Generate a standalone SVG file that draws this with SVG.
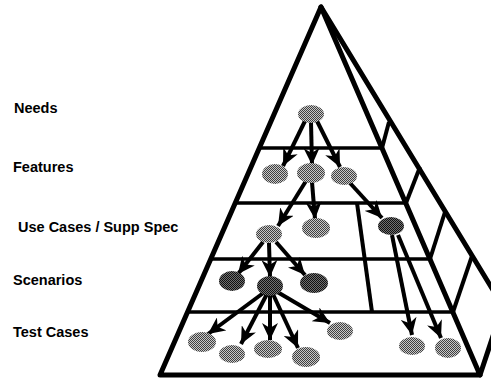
<svg xmlns="http://www.w3.org/2000/svg" width="491" height="380" viewBox="0 0 491 380">
  <style>
    .edge { stroke: #000; stroke-width: 5; fill: none; stroke-linecap: round; stroke-linejoin: round; }
    .layer { stroke: #000; stroke-width: 3.5; fill: none; }
    .side { stroke: #000; stroke-width: 4; fill: none; }
    .arrow { stroke: #000; stroke-width: 4; fill: none; marker-end: url(#head); }
    .node { fill: url(#halftone); }
    .node-dark { fill: url(#halftone-dark); }
    .label { font-family: "Liberation Sans", Arial, sans-serif; font-weight: bold; font-size: 14.5px; fill: #000; }
  </style>
  <defs>
    <pattern id="halftone" width="2" height="2" patternUnits="userSpaceOnUse">
      <rect width="2" height="2" fill="#c8c8c8"/>
      <rect x="0" y="0" width="1" height="1" fill="#404040"/>
      <rect x="1" y="1" width="1" height="1" fill="#404040"/>
    </pattern>
    <pattern id="halftone-dark" width="2" height="2" patternUnits="userSpaceOnUse">
      <rect width="2" height="2" fill="#707070"/>
      <rect x="0" y="0" width="1" height="1" fill="#101010"/>
      <rect x="1" y="1" width="1" height="1" fill="#101010"/>
    </pattern>
    <marker id="head" markerUnits="userSpaceOnUse" markerWidth="18" markerHeight="16" refX="17" refY="8" orient="auto">
      <path d="M0,0 L17,8 L0,16 L5,8 Z" fill="#000"/>
    </marker>
  </defs>

  <!-- pyramid frame -->
  <g id="pyramid">
    <path class="edge" d="M160,375 L321,7 L480,375 Z"/>
    <path class="edge" d="M321,7 L496,295"/>
    <line class="edge" x1="480" y1="375" x2="495" y2="330"/>
    <!-- layer boundaries on the front face -->
    <line class="layer" x1="259" y1="148" x2="382" y2="148"/>
    <line class="layer" x1="235" y1="203" x2="406" y2="203"/>
    <line class="layer" x1="211" y1="259" x2="430" y2="259"/>
    <line class="layer" x1="188" y1="312" x2="453" y2="312"/>
    <!-- layer boundaries on the side face -->
    <line class="side" x1="382" y1="148" x2="389" y2="122"/>
    <line class="side" x1="406" y1="203" x2="420" y2="167"/>
    <line class="side" x1="430" y1="259" x2="445" y2="212"/>
    <line class="side" x1="453" y1="312" x2="472" y2="256"/>
    <!-- divider for the supplementary spec column -->
    <line class="side" x1="357" y1="203" x2="372" y2="312"/>
  </g>

  <!-- level labels -->
  <g id="labels">
    <text class="label" x="14" y="113">Needs</text>
    <text class="label" x="13" y="172">Features</text>
    <text class="label" x="18" y="232">Use Cases / Supp Spec</text>
    <text class="label" x="13" y="285">Scenarios</text>
    <text class="label" x="13" y="337">Test Cases</text>
  </g>

  <!-- connectors -->
  <g id="connectors">
    <line class="arrow" x1="305" y1="121" x2="283" y2="166"/>
    <line class="arrow" x1="311" y1="122" x2="312" y2="165"/>
    <line class="arrow" x1="317" y1="121" x2="340" y2="167"/>

    <line class="arrow" x1="306" y1="181" x2="278" y2="226"/>
    <line class="arrow" x1="312" y1="182" x2="315" y2="219"/>
    <line class="arrow" x1="350" y1="183" x2="382" y2="218"/>

    <line class="arrow" x1="263" y1="242" x2="238" y2="274"/>
    <line class="arrow" x1="269" y1="243" x2="270" y2="277"/>
    <line class="arrow" x1="276" y1="242" x2="305" y2="275"/>

    <line class="arrow" x1="266" y1="291" x2="208" y2="334"/>
    <line class="arrow" x1="268" y1="292" x2="241" y2="344"/>
    <line class="arrow" x1="270" y1="292" x2="270" y2="340"/>
    <line class="arrow" x1="272" y1="292" x2="298" y2="348"/>
    <line class="arrow" x1="274" y1="290" x2="330" y2="323"/>

    <line class="arrow" x1="392" y1="235" x2="412" y2="335"/>
    <line class="arrow" x1="398" y1="235" x2="441" y2="338"/>
  </g>

  <!-- needs -->
  <g id="need-1"><ellipse class="node" cx="311" cy="114" rx="13" ry="9"/></g>
  <!-- features -->
  <g id="feature-1"><ellipse class="node" cx="275" cy="174" rx="13" ry="10"/></g>
  <g id="feature-2"><ellipse class="node" cx="311" cy="173" rx="14" ry="10"/></g>
  <g id="feature-3"><ellipse class="node" cx="344" cy="176" rx="13" ry="9"/></g>
  <!-- use cases / supplementary spec -->
  <g id="usecase-1"><ellipse class="node" cx="269" cy="234" rx="13" ry="9"/></g>
  <g id="usecase-2"><ellipse class="node" cx="316" cy="228" rx="14" ry="10"/></g>
  <g id="suppspec-1"><ellipse class="node-dark" cx="391" cy="226" rx="13" ry="9"/></g>
  <!-- scenarios -->
  <g id="scenario-1"><ellipse class="node-dark" cx="232" cy="281" rx="13" ry="10"/></g>
  <g id="scenario-2"><ellipse class="node-dark" cx="270" cy="286" rx="13" ry="10"/></g>
  <g id="scenario-3"><ellipse class="node-dark" cx="314" cy="283" rx="14" ry="10"/></g>
  <!-- test cases -->
  <g id="test-1"><ellipse class="node" cx="202" cy="342" rx="14" ry="10"/></g>
  <g id="test-2"><ellipse class="node" cx="232" cy="354" rx="13" ry="9"/></g>
  <g id="test-3"><ellipse class="node" cx="268" cy="349" rx="14" ry="9"/></g>
  <g id="test-4"><ellipse class="node" cx="306" cy="357" rx="14" ry="10"/></g>
  <g id="test-5"><ellipse class="node" cx="340" cy="331" rx="13" ry="9"/></g>
  <g id="test-6"><ellipse class="node" cx="412" cy="346" rx="13" ry="9"/></g>
  <g id="test-7"><ellipse class="node" cx="448" cy="348" rx="13" ry="10"/></g>
</svg>
